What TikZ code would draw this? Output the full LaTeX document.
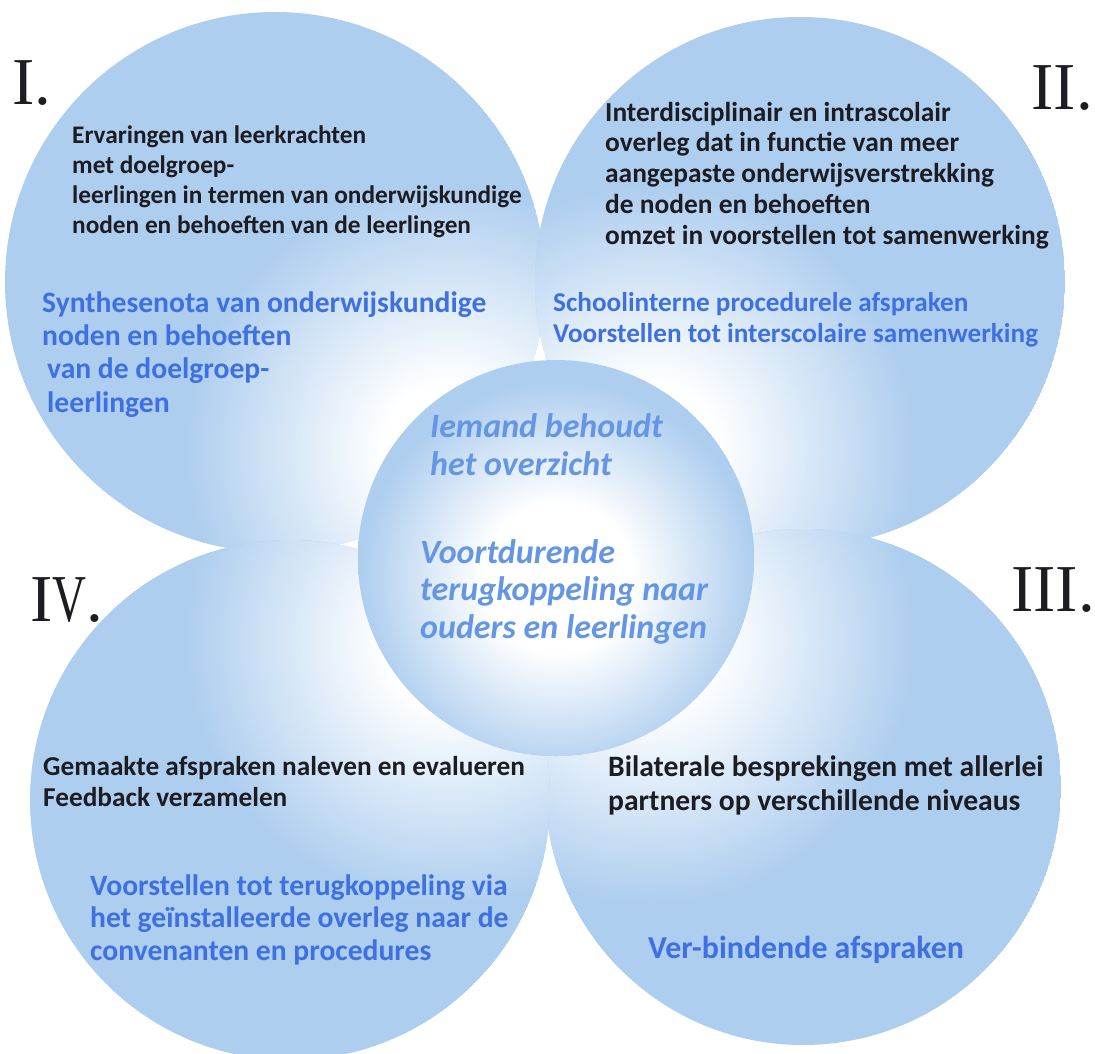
\documentclass[tikz,border=0pt]{standalone}
\usepackage{fontspec}
\setmainfont{Carlito}
\newfontfamily\numfont{Liberation Serif}
\usepackage{xcolor}
\usepackage{graphicx}

\definecolor{bubbleblue}{RGB}{174,206,239}
\definecolor{ink}{RGB}{28,28,34}
\definecolor{inkblue}{RGB}{62,112,226}
\definecolor{softblue}{RGB}{100,150,228}

% white core fading out to the light blue rim
\pgfdeclareradialshading{glow}{\pgfpoint{0bp}{0bp}}{color(0bp)=(white); color(5bp)=(white); color(20bp)=(bubbleblue); color(50bp)=(bubbleblue)}
\pgfdeclareradialshading{coreglow}{\pgfpoint{0bp}{0bp}}{color(0bp)=(white); color(9bp)=(white); color(24bp)=(bubbleblue); color(50bp)=(bubbleblue)}

\tikzset{
	plain/.style 2 args={text=ink, align=left, inner sep=0pt, font=\bfseries\fontsize{#1}{#2}\selectfont},
	note/.style 2 args={text=inkblue, align=left, inner sep=0pt, font=\bfseries\fontsize{#1}{#2}\selectfont},
	core/.style={text=softblue, align=left, inner sep=0pt, font=\bfseries\itshape\fontsize{34}{37.5}\selectfont},
	numeral/.style={text=ink, inner sep=0pt, font=\numfont\fontsize{67}{67}\selectfont}
}

\begin{document}
\begin{tikzpicture}[x=1pt,y=-1pt]
	\useasboundingbox (0,0) rectangle (1095,1053);
	\clip (0,0) rectangle (1095,1053);
	
	% Four quarter bubbles, each one paler towards the middle
	\begin{scope}
		\clip (275,282) circle (270);
		\fill[bubbleblue] (275,282) circle (270);
		\shade[shading=glow] (450,450) circle (330);
	\end{scope}
	\begin{scope}
		\clip (800,282) circle (265);
		\fill[bubbleblue] (800,282) circle (265);
		\shade[shading=glow] (650,450) circle (330);
	\end{scope}
	\begin{scope}
		\clip (803,787) circle (258);
		\fill[bubbleblue] (803,787) circle (258);
		\shade[shading=glow] (650,640) circle (330);
	\end{scope}
	\begin{scope}
		\clip (290,800) circle (260);
		\fill[bubbleblue] (290,800) circle (260);
		\shade[shading=glow] (450,640) circle (330);
	\end{scope}
	
	% Middle bubble
	\begin{scope}
		\clip (556,558) circle (198);
		\fill[bubbleblue] (556,558) circle (198);
		\shade[shading=coreglow] (558,578) circle (205);
	\end{scope}
	
	% Numbers
	\node[numeral, anchor=base west] (numI) at (12,104) {I.};
	\node[numeral, anchor=base east] (numII) at (1093,109) {II.};
	\node[numeral, anchor=base east] (numIII) at (1095,611) {III.};
	\node[numeral, anchor=base west] (numIV) at (30,621) {I\scalebox{0.7}[1]{V}.};
	
	% I. (nodes are placed by the baseline of their last line)
	\node[plain={25.3}{29.7}, anchor=base west] (ervaringen) at (72,233) {Ervaringen van leerkrachten\\met doelgroep-\\leerlingen in termen van onderwijskundige\\noden en behoeften van de leerlingen};
	\node[note={29.6}{33.3}, anchor=base west] (synthese) at (42,412) {Synthesenota van onderwijskundige\\noden en behoeften\\\hspace*{5pt}van de doelgroep-\\\hspace*{5pt}leerlingen};
	
	% II.
	\node[plain={27.4}{30.7}, anchor=base west] (overleg) at (605,244) {Interdisciplinair en intrascolair\\overleg dat in functie van meer\\aangepaste onderwijsverstrekking\\de noden en behoeften\\omzet in voorstellen tot samenwerking};
	\node[note={27.2}{31}, anchor=base west] (schoolintern) at (553,342) {Schoolinterne procedurele afspraken\\Voorstellen tot interscolaire samenwerking};
	
	% III.
	\node[plain={29.6}{34}, anchor=base west] (bilateraal) at (608,810) {Bilaterale besprekingen met allerlei\\partners op verschillende niveaus};
	\node[note={31.9}{35}, anchor=base west] (verbindend) at (648,958) {Ver-bindende afspraken};
	
	% IV.
	\node[plain={27.3}{31}, anchor=base west] (naleven) at (43,806) {Gemaakte afspraken naleven en evalueren\\Feedback verzamelen};
	\node[note={29.6}{32.5}, anchor=base west] (terugkoppeling) at (90,960) {Voorstellen tot terugkoppeling via\\het geïnstalleerde overleg naar de\\convenanten en procedures};
	
	% Middle
	\node[core, anchor=base west] (overzicht) at (430,475) {Iemand behoudt\\het overzicht};
	\node[core, anchor=base west] (ouders) at (420,638) {Voortdurende\\terugkoppeling naar\\ouders en leerlingen};
	
\end{tikzpicture}
\end{document}
